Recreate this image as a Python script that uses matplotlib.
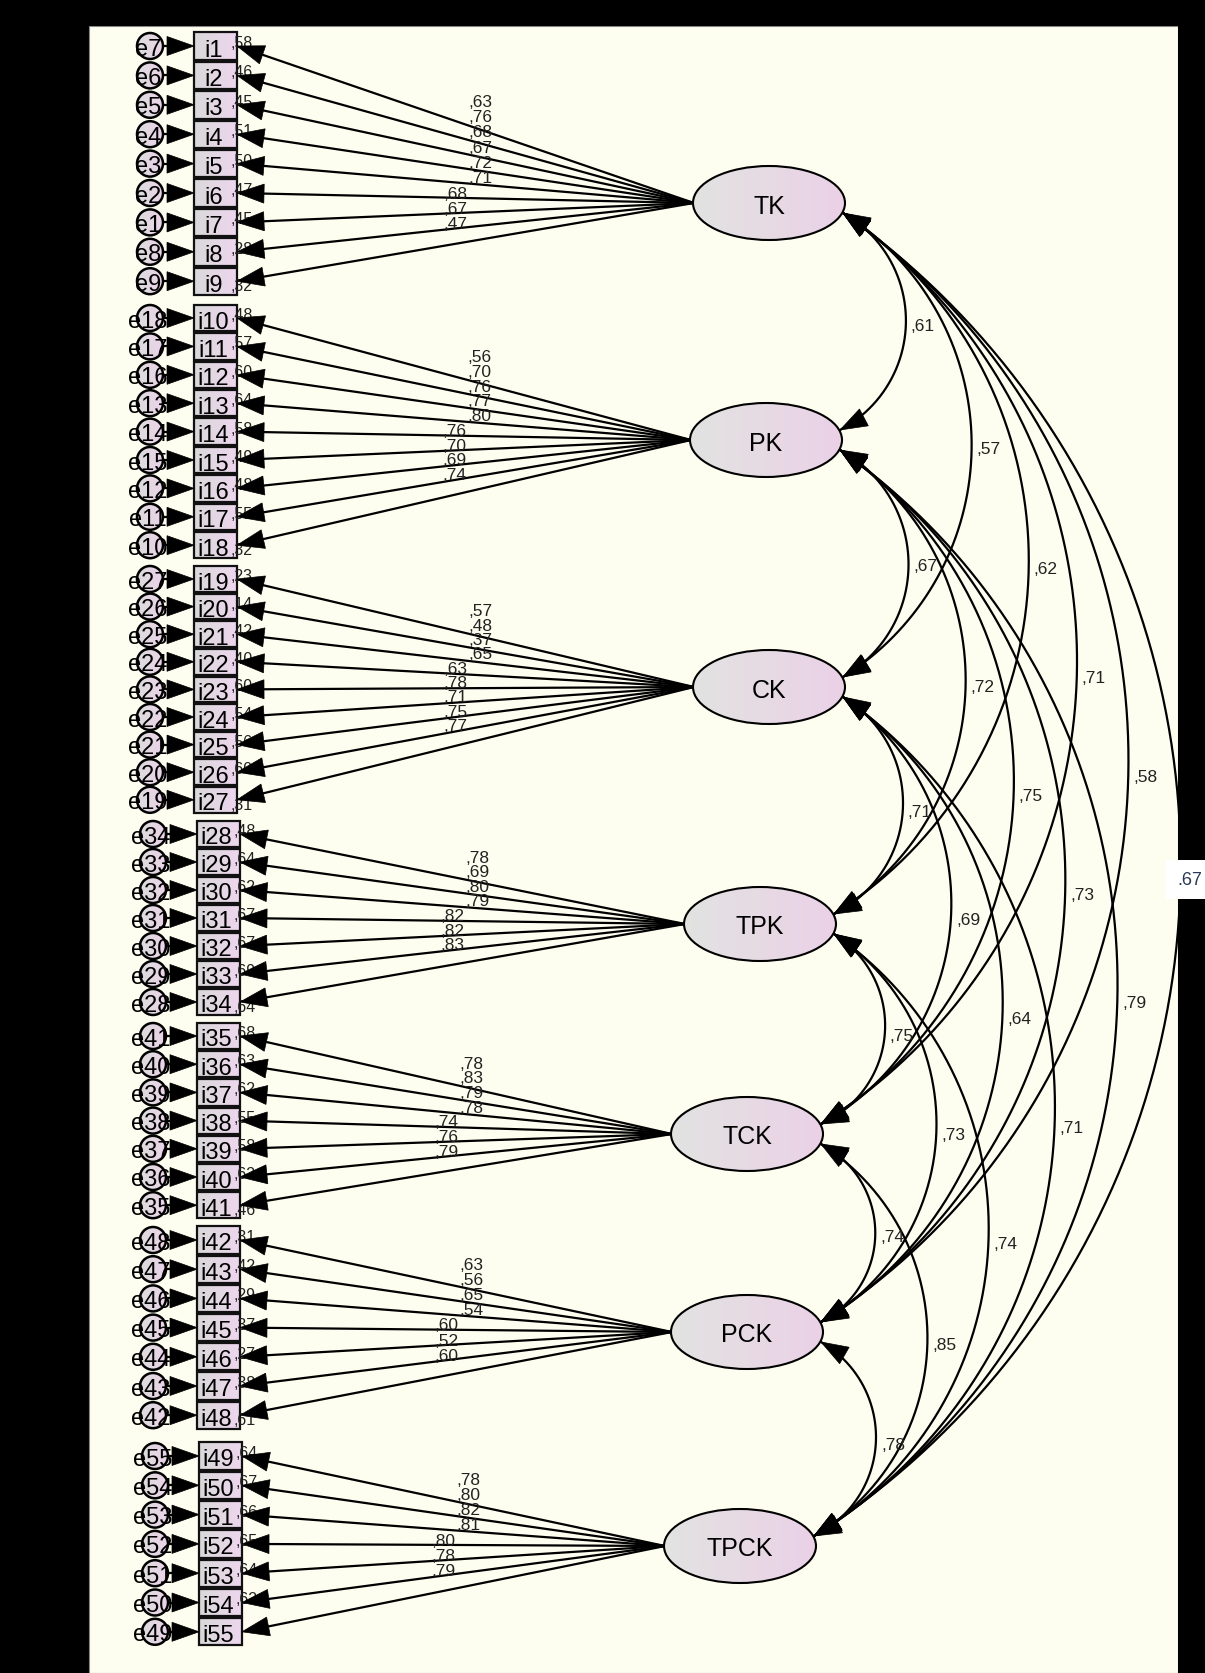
"""AMOS measurement model — seven TPACK factors with item loadings and factor correlations."""

import numpy as np
import matplotlib.pyplot as plt
import matplotlib.colors as mcolors
from matplotlib.patches import Rectangle, Ellipse, Circle, Polygon

plt.rcParams['font.family'] = ['Liberation Sans', 'DejaVu Sans']

# ── Data ──────────────────────────────────────────────────────────────────────
factors = ["TK", "PK", "CK", "TPK", "TCK", "PCK", "TPCK"]

items = [
    ["i1", "i2", "i3", "i4", "i5", "i6", "i7", "i8", "i9"],
    ["i10", "i11", "i12", "i13", "i14", "i15", "i16", "i17", "i18"],
    ["i19", "i20", "i21", "i22", "i23", "i24", "i25", "i26", "i27"],
    ["i28", "i29", "i30", "i31", "i32", "i33", "i34"],
    ["i35", "i36", "i37", "i38", "i39", "i40", "i41"],
    ["i42", "i43", "i44", "i45", "i46", "i47", "i48"],
    ["i49", "i50", "i51", "i52", "i53", "i54", "i55"],
]

errors = [
    ["e7", "e6", "e5", "e4", "e3", "e2", "e1", "e8", "e9"],
    ["e18", "e17", "e16", "e13", "e14", "e15", "e12", "e11", "e10"],
    ["e27", "e26", "e25", "e24", "e23", "e22", "e21", "e20", "e19"],
    ["e34", "e33", "e32", "e31", "e30", "e29", "e28"],
    ["e41", "e40", "e39", "e38", "e37", "e36", "e35"],
    ["e48", "e47", "e46", "e45", "e44", "e43", "e42"],
    ["e55", "e54", "e53", "e52", "e51", "e50", "e49"],
]

loadings = [
    [.63, .76, .68, .67, .72, .71, .68, .67, .47],
    [.56, .70, .76, .77, .80, .76, .70, .69, .74],
    [.57, .48, .37, .65, .63, .78, .71, .75, .77],
    [.78, .69, .80, .79, .82, .82, .83],
    [.78, .83, .79, .78, .74, .76, .79],
    [.63, .56, .65, .54, .60, .52, .60],
    [.78, .80, .82, .81, .80, .78, .79],
]

r2 = [
    [.58, .46, .45, .51, .50, .47, .45, .28, .32],
    [.48, .57, .60, .64, .58, .49, .48, .55, .32],
    [.23, .14, .42, .40, .60, .54, .56, .60, .31],
    [.48, .64, .62, .67, .67, .69, .64],
    [.68, .63, .62, .55, .58, .62, .46],
    [.31, .42, .29, .37, .27, .38, .61],
    [.64, .67, .66, .65, .64, .62, None],
]

correlations = [
    ("TK", "PK", .61), ("TK", "CK", .57), ("TK", "TPK", .62), ("TK", "TCK", .71),
    ("TK", "PCK", .58), ("TK", "TPCK", .67),
    ("PK", "CK", .67), ("PK", "TPK", .72), ("PK", "TCK", .75), ("PK", "PCK", .73),
    ("PK", "TPCK", .79),
    ("CK", "TPK", .71), ("CK", "TCK", .69), ("CK", "PCK", .64), ("CK", "TPCK", .71),
    ("TPK", "TCK", .75), ("TPK", "PCK", .73), ("TPK", "TPCK", .74),
    ("TCK", "PCK", .74), ("TCK", "TPCK", .85),
    ("PCK", "TPCK", .78),
]
highlighted = ("TK", "TPCK")

# ── Layout (pixels) ───────────────────────────────────────────────────────────
W, H = 1205, 1674
group_top = [47, 319, 580, 835, 1037, 1241, 1457]
group_step = [29.4, 28.4, 27.6, 28.0, 28.2, 29.2, 29.3]
box_left = [194, 194, 194, 197, 197, 197, 199]
box_w = 43
factor_x = [769, 766, 769, 760, 747, 747, 740]
factor_y = [204, 441, 688, 925, 1135, 1333, 1547]
ell_w, ell_h = 152, 74
err_r = 13
LW = 1.6

fig = plt.figure(figsize=(W / 100, H / 100), dpi=100, facecolor="black")
ax = fig.add_axes([0, 0, 1, 1])
ax.set_xlim(0, W)
ax.set_ylim(H, 0)
ax.axis("off")

ax.add_patch(Rectangle((89, 27), 1178 - 89, H - 27, fc="#fefef0", ec="#888888", lw=0.8, zorder=0))

grad = np.linspace(0, 1, 64)[None, :, None]


def shaded(patch, extent, c0="#dcdcdc", c1="#ecd3ea", z=4):
    a, b = np.array(mcolors.to_rgb(c0)), np.array(mcolors.to_rgb(c1))
    patch.set_facecolor("none")
    patch.set_zorder(z + 0.1)
    ax.add_patch(patch)
    im = ax.imshow(a + (b - a) * grad, extent=extent, aspect="auto",
                   interpolation="bilinear", zorder=z)
    im.set_clip_path(patch)


def head(tip, direction, length=27, half=9.5, z=5):
    d = np.asarray(direction, float)
    d = d / np.hypot(*d)
    p = np.array([-d[1], d[0]])
    tip = np.asarray(tip, float)
    base = tip - d * length
    ax.add_patch(Polygon([tip, base + p * half, base - p * half], closed=True,
                         fc="black", ec="black", lw=0.5, zorder=z))


def fmt(v):
    return f",{round(v * 100):02d}"


# ── Factors ───────────────────────────────────────────────────────────────────
for g, fac in enumerate(factors):
    fx, fy = factor_x[g], factor_y[g]
    shaded(Ellipse((fx, fy), ell_w, ell_h, ec="black", lw=1.5),
           (fx - ell_w / 2, fx + ell_w / 2, fy + ell_h / 2, fy - ell_h / 2),
           "#e2e3e1", "#ebd1e7", z=4)
    ax.text(fx, fy, fac, ha="center", va="center_baseline", fontsize=18, zorder=6)

# ── Items, errors, loadings ───────────────────────────────────────────────────
for g in range(len(factors)):
    fx, fy = factor_x[g], factor_y[g]
    sx = fx - ell_w / 2 + 1
    bl = box_left[g]
    br = bl + box_w
    ex = bl - 44
    bh = group_step[g] - 2
    n = len(items[g])
    for k in range(n):
        y = group_top[g] + k * group_step[g]

        # error term
        shaded(Circle((ex, y), err_r, ec="black", lw=1.8),
               (ex - err_r, ex + err_r, y + err_r, y - err_r), z=4)
        ax.text(ex - 2, y, errors[g][k], ha="center", va="center_baseline", fontsize=17, zorder=6)
        ax.plot([ex + err_r, bl - 20], [y, y], color="black", lw=LW, zorder=2)
        head((bl, y), (1, 0))

        # observed item
        shaded(Rectangle((bl, y - bh / 2), box_w, bh, ec="#111111", lw=1.6),
               (bl, br, y + bh / 2, y - bh / 2), "#d9d9d9", "#eed6ee", z=4)
        ax.text(bl + box_w / 2 - 2, y + 1, items[g][k], ha="center", va="center_baseline",
                fontsize=17, zorder=6)
        if r2[g][k] is not None:
            ry = y + 9 if k == n - 1 else y + 1
            ax.text(br - 6, ry, fmt(r2[g][k]), ha="left", va="baseline",
                    fontsize=11.5, color="#222222", zorder=4.6)

        # loading path
        d = np.array([br - sx, y - fy])
        d = d / np.hypot(*d)
        ax.plot([sx, br - d[0] * 20], [fy, y - d[1] * 20], color="black", lw=LW, zorder=2)
        head((br, y), d)

        mid = (sx + br) / 2
        lx = mid + 15 if y < fy else mid - 10
        ly = fy + 0.52 * (y - fy) - 20
        ax.text(lx, ly, fmt(loadings[g][k]), ha="center", va="center",
                fontsize=12.5, color="#222222", zorder=3)

# ── Correlation arcs ──────────────────────────────────────────────────────────
for a, b, v in correlations:
    ia, ib = factors.index(a), factors.index(b)
    p1 = np.array([factor_x[ia] + ell_w / 2 - 2, factor_y[ia] + 10])
    p2 = np.array([factor_x[ib] + ell_w / 2 - 2, factor_y[ib] - 10])
    c = p2 - p1
    L = np.hypot(*c)
    u = c / L
    nrm = np.array([u[1], -u[0]])
    s = 0.26 * L + 8
    R = (L ** 2 / 4 + s ** 2) / (2 * s)
    th = np.arcsin(L / 2 / R)
    M = (p1 + p2) / 2
    C = M + nrm * (s - R)
    phi = np.linspace(-th, th, 300)
    pts = C + R * (np.cos(phi)[:, None] * nrm + np.sin(phi)[:, None] * u)
    ax.plot(pts[:, 0], pts[:, 1], color="black", lw=LW, zorder=2)
    head(p2, -np.sin(th) * nrm + np.cos(th) * u)
    head(p1, -(np.sin(th) * nrm + np.cos(th) * u))

    apex = M + nrm * s
    if (a, b) == highlighted:
        ax.text(1177, apex[1] - 3, f".{round(v * 100):02d}", ha="left", va="center",
                fontsize=13, color="#2b3a55", zorder=9,
                bbox=dict(boxstyle="square,pad=0.6", fc="white", ec="none"))
    else:
        ax.text(apex[0] + 5, apex[1] + 3, fmt(v), ha="left", va="center",
                fontsize=12.5, color="#222222", zorder=3)

# black frame over the arcs
ax.add_patch(Rectangle((1178, 0), W - 1178, H, fc="black", ec="none", zorder=7))
ax.add_patch(Rectangle((0, 0), W, 27, fc="black", ec="none", zorder=7))

ax.set_xlim(0, W)
ax.set_ylim(H, 0)
fig.savefig("out.png", dpi=100, facecolor="black")
